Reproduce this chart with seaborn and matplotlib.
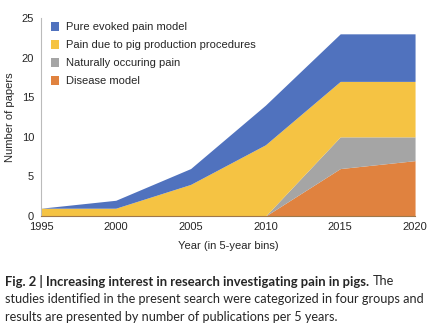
import matplotlib
matplotlib.use("Agg")
import matplotlib.pyplot as plt
import seaborn as sns
from matplotlib.patches import Patch

years = [1995, 2000, 2005, 2010, 2015, 2020]
disease = [0, 0, 0, 0, 6, 7]
natural = [0, 0, 0, 0, 4, 3]
production = [1, 1, 4, 9, 7, 7]
evoked = [0, 1, 2, 5, 6, 6]
labels = ["Pure evoked pain model", "Pain due to pig production procedures",
          "Naturally occuring pain", "Disease model"]
colors = {"Pure evoked pain model": "#5072BE",
          "Pain due to pig production procedures": "#F5C343",
          "Naturally occuring pain": "#A5A5A5",
          "Disease model": "#E0823F"}
yticks = [0, 5, 10, 15, 20, 25]

sns.set_theme(style="white")
plt.rcParams["font.family"] = ["Liberation Sans", "DejaVu Sans"]

fig = plt.figure(figsize=(4.31, 3.33), dpi=100)
ax = fig.add_axes([0.095, 0.351, 0.868, 0.595])

ax.stackplot(years, disease, natural, production, evoked,
             colors=[colors["Disease model"], colors["Naturally occuring pain"],
                     colors["Pain due to pig production procedures"],
                     colors["Pure evoked pain model"]],
             linewidth=0)
ax.set_xlim(years[0], years[-1])
ax.set_ylim(0, 25)
ax.set_xticks(years)
ax.set_yticks(yticks)
ax.tick_params(axis="y", labelsize=8, length=0, pad=5)
ax.tick_params(axis="x", labelsize=8, length=0, pad=4)
ax.set_xlabel("Year (in 5-year bins)", fontsize=8, labelpad=7)
ax.set_ylabel("Number of papers", fontsize=8, labelpad=5)
sns.despine(ax=ax, top=True, right=True)
ax.spines["left"].set_color("#BBBBBB")
ax.spines["left"].set_linewidth(0.8)
ax.spines["bottom"].set_color("#A0784A")
ax.spines["bottom"].set_linewidth(0.8)

handles = [Patch(facecolor=colors[l], edgecolor="none", label=l) for l in labels]
ax.legend(handles=handles, loc="upper left", bbox_to_anchor=(0.015, 1.0),
          frameon=False, fontsize=8, handlelength=0.75, handleheight=0.75,
          handletextpad=0.6, labelspacing=0.72, borderaxespad=0)

# caption
cap_font = ["Lato", "DejaVu Sans"]
t1 = fig.text(0.012, 1 - 281 / 333, "Fig. 2 | Increasing interest in research investigating pain in pigs.",
              fontsize=9.4, fontweight="bold", family=cap_font, va="center", ha="left")
fig.canvas.draw()
bb = t1.get_window_extent()
x_end = bb.x1 / fig.bbox.width
fig.text(x_end + 0.008, 1 - 281 / 333, "The", fontsize=9.2, family=cap_font, va="center", ha="left")
fig.text(0.012, 1 - 299 / 333, "studies identified in the present search were categorized in four groups and",
         fontsize=9.1, family=cap_font, va="center", ha="left")
fig.text(0.012, 1 - 317 / 333, "results are presented by number of publications per 5 years.",
         fontsize=9.1, family=cap_font, va="center", ha="left")

fig.savefig("out.png", dpi=100)
